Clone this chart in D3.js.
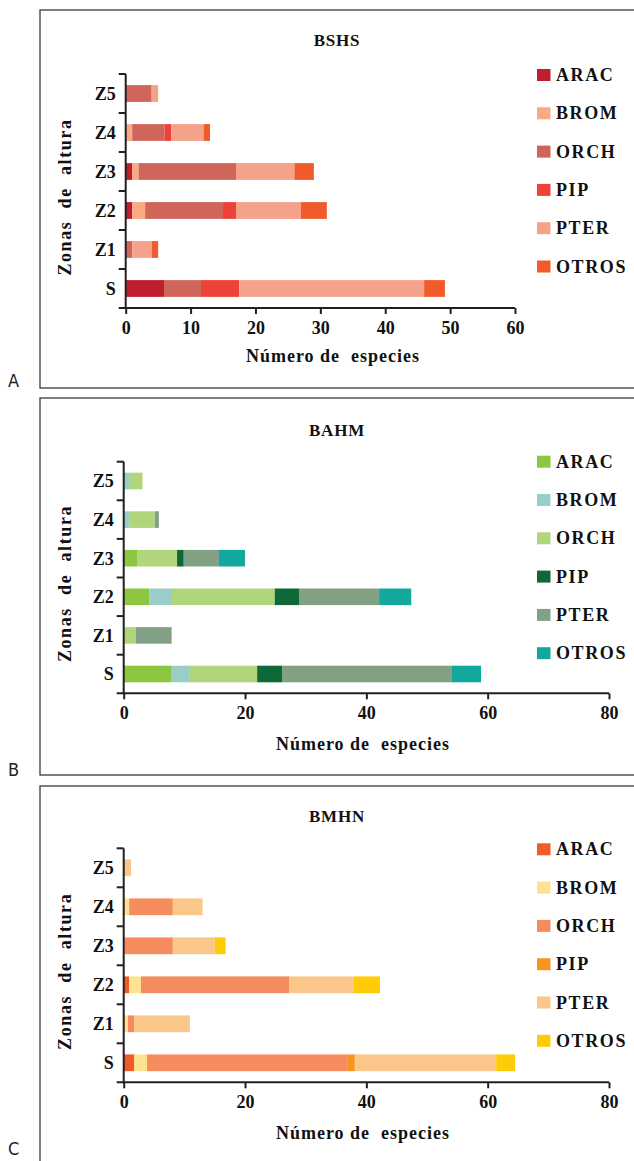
<!DOCTYPE html>
<html>
<head>
<meta charset="utf-8">
<script src="https://cdn.jsdelivr.net/npm/d3@7"></script>
<style>
  html, body { margin: 0; padding: 0; background: #fff; }
  svg { display: block; }
</style>
</head>
<body>
<svg id="chart" width="634" height="1161"></svg>
<script>
// ---- data ----
const zones = ["S", "Z1", "Z2", "Z3", "Z4", "Z5"];
const groups = ["ARAC", "BROM", "ORCH", "PIP", "PTER", "OTROS"];

// BSHS (panel A), values per zone in order S, Z1, Z2, Z3, Z4, Z5
const bshsARAC  = [5.9, 0, 1, 1, 0, 0];
const bshsBROM  = [0, 0, 2, 1, 1, 0];
const bshsORCH  = [5.7, 1, 12, 15, 5, 4];
const bshsPIP   = [5.9, 0, 2, 0, 1, 0];
const bshsPTER  = [28.5, 3, 10, 9, 5, 1];
const bshsOTROS = [3.2, 1, 4, 3, 1, 0];

// BAHM (panel B)
const bahmARAC  = [7.8, 0, 4.2, 2.2, 0, 0];
const bahmBROM  = [3.1, 0.1, 3.6, 0, 1, 1];
const bahmORCH  = [11.1, 1.9, 17.1, 6.6, 4.1, 2.1];
const bahmPIP   = [4.1, 0, 4, 1.1, 0, 0];
const bahmPTER  = [27.9, 5.9, 13.2, 5.8, 0.7, 0];
const bahmOTROS = [4.9, 0, 5.3, 4.3, 0, 0];

// BMHN (panel C)
const bmhnARAC  = [1.7, 0, 0.9, 0, 0, 0];
const bmhnBROM  = [2.15, 0.7, 1.95, 0.1, 0.9, 0];
const bmhnORCH  = [33.1, 1.0, 24.4, 8.0, 7.2, 0];
const bmhnPIP   = [1.15, 0, 0, 0, 0, 0];
const bmhnPTER  = [23.3, 9.2, 10.7, 6.9, 4.9, 1.2];
const bmhnOTROS = [3.1, 0, 4.3, 1.8, 0, 0];

const titles = ["BSHS", "BAHM", "BMHN"];
const panelLetters = ["A", "B", "C"];
const xMaxes = [60, 80, 80];
const xTickSteps = [10, 20, 20];
const xLabel = "Número de  especies";
const yLabel = "Zonas  de  altura";

const colorsA = ["#be1e2d", "#f8aa82", "#d0655a", "#ee4137", "#f5a28a", "#f15a2a"];
const colorsB = ["#8dc63f", "#99cdc8", "#b0d57a", "#0e6838", "#82a084", "#13a89e"];
const colorsC = ["#f15a29", "#fde290", "#f68b5d", "#f7941e", "#fac68a", "#ffcb08"];

// ---- layout ----
const layouts = [
  { box: [40, 10, 600, 378], x0: 125.7, x1: 515, yTop: 74, yBot: 308, titleY: 46, xLabX: 333, xLabY: 362, legX: 537, legY: 69, letterY: 387 },
  { box: [40, 398, 600, 377], x0: 123.7, x1: 609, yTop: 461.7, yBot: 693.3, titleY: 436, xLabX: 363, xLabY: 750, legX: 537, legY: 455.7, letterY: 776 },
  { box: [40, 786, 600, 400], x0: 123.7, x1: 609, yTop: 848.3, yBot: 1082.3, titleY: 822, xLabX: 363, xLabY: 1139, legX: 537, legY: 843.3, letterY: 1155 }
];

const panelData = [
  [bshsARAC, bshsBROM, bshsORCH, bshsPIP, bshsPTER, bshsOTROS],
  [bahmARAC, bahmBROM, bahmORCH, bahmPIP, bahmPTER, bahmOTROS],
  [bmhnARAC, bmhnBROM, bmhnORCH, bmhnPIP, bmhnPTER, bmhnOTROS]
];
const panelColors = [colorsA, colorsB, colorsC];

const SERIF = "'Liberation Serif', 'Times New Roman', Times, 'DejaVu Serif', serif";
const svg = d3.select("#chart");

panelData.forEach((series, p) => {
  const L = layouts[p];
  const g = svg.append("g");

  // frame
  g.append("rect")
    .attr("x", L.box[0]).attr("y", L.box[1])
    .attr("width", L.box[2]).attr("height", L.box[3])
    .attr("fill", "none").attr("stroke", "#3a3a3a").attr("stroke-width", 1.3);

  // panel letter
  g.append("text")
    .attr("x", 8).attr("y", L.letterY)
    .attr("font-family", "'DejaVu Sans Condensed', 'Liberation Sans Narrow', sans-serif")
    .style("font-stretch", "condensed")
    .style("font-size", "18px")
    .style("fill", "#222")
    .text(panelLetters[p]);

  // title
  g.append("text")
    .attr("x", 337).attr("y", L.titleY)
    .attr("text-anchor", "middle")
    .attr("font-family", SERIF)
    .style("font-weight", "bold").style("font-size", "17px").style("letter-spacing", "0.8px").style("fill", "#111")
    .text(titles[p]);

  // rows
  const rows = zones.map((z, i) => {
    const r = { zone: z };
    groups.forEach((k, j) => { r[k] = series[j][i]; });
    return r;
  });
  const stack = d3.stack().keys(groups)(rows);

  const x = d3.scaleLinear().domain([0, xMaxes[p]]).range([L.x0, L.x1]);
  const y = d3.scaleBand().domain(zones.slice().reverse()).range([L.yTop, L.yBot]).padding(0);
  const barH = y.step() * 0.43;
  const color = d3.scaleOrdinal().domain(groups).range(panelColors[p]);

  // bars
  g.append("g").selectAll("g")
    .data(stack).join("g")
    .attr("fill", d => color(d.key))
    .selectAll("rect")
    .data(d => d).join("rect")
    .attr("x", d => x(d[0]))
    .attr("width", d => Math.max(0, x(d[1]) - x(d[0])))
    .attr("y", d => y(d.data.zone) + (y.step() - barH) / 2)
    .attr("height", barH);

  // y axis (ticks at band boundaries)
  const yAxisG = g.append("g");
  yAxisG.append("line")
    .attr("x1", L.x0).attr("x2", L.x0)
    .attr("y1", L.yTop).attr("y2", L.yBot + 1)
    .attr("stroke", "#231f20").attr("stroke-width", 2);
  const bounds = y.domain().map(z => y(z));
  yAxisG.selectAll("line.tk").data(bounds).join("line").attr("class", "tk")
    .attr("x1", L.x0 - 7).attr("x2", L.x0)
    .attr("y1", d => d).attr("y2", d => d)
    .attr("stroke", "#231f20").attr("stroke-width", 2);
  yAxisG.selectAll("text").data(y.domain()).join("text")
    .attr("x", L.x0 - 10)
    .attr("y", d => y(d) + y.step() / 2)
    .attr("dy", "0.35em")
    .attr("text-anchor", "end")
    .attr("font-family", SERIF)
    .style("font-weight", "bold").style("font-size", "18px").style("fill", "#111")
    .text(d => d);

  // x axis
  const ticks = d3.range(0, xMaxes[p] + 0.001, xTickSteps[p]);
  const xAxis = d3.axisBottom(x).tickValues(ticks).tickSize(6).tickSizeOuter(0).tickFormat(d3.format("d"));
  const xg = g.append("g").attr("transform", `translate(0,${L.yBot})`).call(xAxis)
    .attr("font-family", SERIF);
  xg.select(".domain").attr("stroke", "#231f20").attr("stroke-width", 2)
    .attr("d", `M${L.x0 - 7},0H${L.x1}`);
  xg.selectAll(".tick line").attr("stroke", "#231f20").attr("stroke-width", 2);
  xg.selectAll(".tick text")
    .attr("dy", "0.95em")
    .attr("font-family", SERIF)
    .style("font-weight", "bold").style("font-size", "18px").style("fill", "#111");

  // axis titles
  g.append("text")
    .attr("x", L.xLabX).attr("y", L.xLabY)
    .attr("text-anchor", "middle")
    .attr("font-family", SERIF)
    .attr("xml:space", "preserve").style("white-space", "pre")
    .style("font-weight", "bold").style("font-size", "18px").style("letter-spacing", "1px").style("fill", "#111")
    .text(xLabel);

  g.append("text")
    .attr("transform", `translate(71,${(L.yTop + L.yBot) / 2 + 6}) rotate(-90)`)
    .attr("text-anchor", "middle")
    .attr("font-family", SERIF)
    .attr("xml:space", "preserve").style("white-space", "pre")
    .style("font-weight", "bold").style("font-size", "18px").style("letter-spacing", "1.6px").style("fill", "#111")
    .text(yLabel);

  // legend
  const lg = g.append("g");
  groups.forEach((k, j) => {
    const yy = L.legY + j * 38.3;
    lg.append("rect")
      .attr("x", L.legX).attr("y", yy)
      .attr("width", 13.5).attr("height", 12)
      .attr("fill", color(k));
    lg.append("text")
      .attr("x", L.legX + 19).attr("y", yy + 12)
      .attr("font-family", SERIF)
      .style("font-weight", "bold").style("font-size", "18px").style("letter-spacing", "1.6px").style("fill", "#111")
      .text(k);
  });
});
</script>
</body>
</html>
